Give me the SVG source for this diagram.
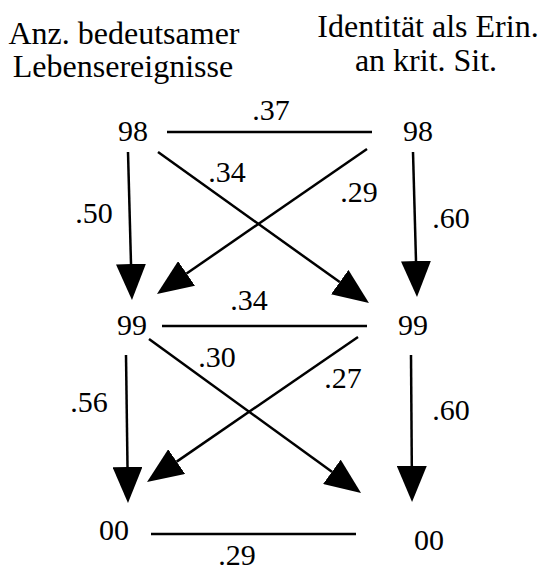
<svg xmlns="http://www.w3.org/2000/svg" width="539" height="572" viewBox="0 0 539 572">
<style>
text{font-family:"Liberation Serif","Times New Roman",serif;font-size:30px;fill:#000;text-anchor:middle}
.t{font-size:32px}
.ln{stroke:#000;stroke-width:2.5;fill:none}
.ar{stroke:#000;stroke-width:2.5;fill:none;marker-end:url(#ah)}
</style>
<defs>
<marker id="ah" markerUnits="userSpaceOnUse" viewBox="0 0 36 30" refX="0" refY="15" markerWidth="36" markerHeight="30" orient="auto">
<path d="M0,0 L36,15 L0,30 z" fill="#000"/>
</marker>
</defs>
<rect width="539" height="572" fill="#fff"/>
<g id="titles">
<text class="t" x="124" y="44">Anz. bedeutsamer</text>
<text class="t" x="123" y="77">Lebensereignisse</text>
<text class="t" x="428" y="37">Identität als Erin.</text>
<text class="t" x="426" y="71">an krit. Sit.</text>
</g>
<g id="n-L1"><text x="133" y="141">98</text></g>
<g id="n-R1"><text x="418" y="141">98</text></g>
<g id="n-L2"><text x="132" y="335">99</text></g>
<g id="n-R2"><text x="413" y="335">99</text></g>
<g id="n-L3"><text x="114" y="540">00</text></g>
<g id="n-R3"><text x="429" y="550">00</text></g>
<g id="connectors">
<line class="ln" x1="167" y1="132" x2="372" y2="132"/>
<line class="ln" x1="162" y1="326" x2="367" y2="326"/>
<line class="ln" x1="151" y1="534" x2="356" y2="534"/>
<line class="ar" x1="128" y1="152" x2="131" y2="264"/>
<line class="ar" x1="413" y1="152" x2="416" y2="261"/>
<line class="ar" x1="158" y1="152" x2="339.7" y2="282.1"/>
<line class="ar" x1="367" y1="149" x2="186.6" y2="273.5"/>
<line class="ar" x1="126" y1="355" x2="127.5" y2="467"/>
<line class="ar" x1="411" y1="355" x2="411.8" y2="466"/>
<line class="ar" x1="149" y1="339" x2="331.9" y2="471.8"/>
<line class="ar" x1="358" y1="337" x2="176.7" y2="461.6"/>
</g>
<g id="labels">
<text x="271" y="120">.37</text>
<text x="227" y="182">.34</text>
<text x="359" y="202">.29</text>
<text x="94" y="223">.50</text>
<text x="451" y="228">.60</text>
<text x="249" y="310">.34</text>
<text x="217" y="367">.30</text>
<text x="343" y="388">.27</text>
<text x="89" y="412">.56</text>
<text x="451" y="420">.60</text>
<text x="237" y="565">.29</text>
</g>
</svg>
